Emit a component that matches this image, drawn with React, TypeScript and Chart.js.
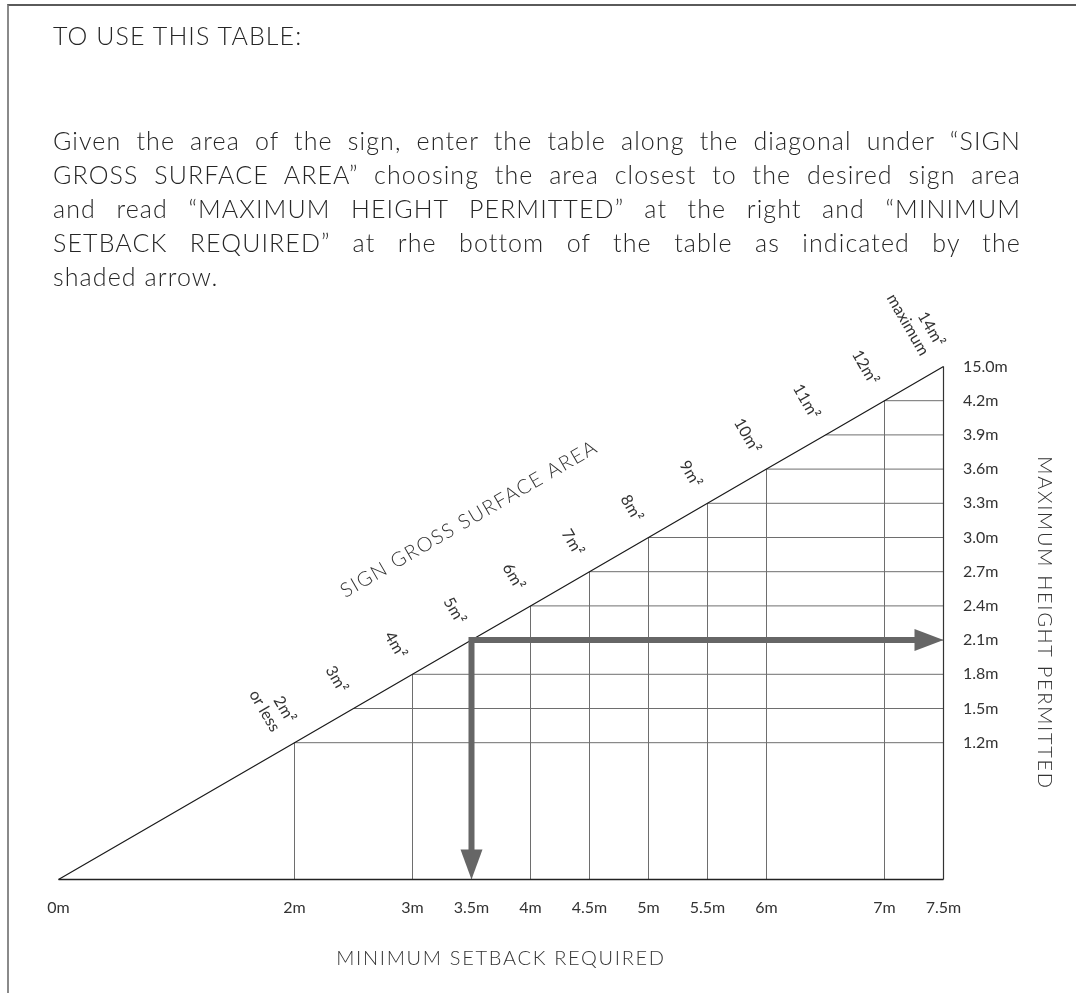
import React, { useEffect, useRef } from "react";
import { Chart, registerables } from "chart.js";

Chart.register(...registerables);

// ---------- data ----------
const setbackTicks = [0, 2, 3, 3.5, 4, 4.5, 5, 5.5, 6, 7, 7.5];
const setbackTickLabels = ["0m", "2m", "3m", "3.5m", "4m", "4.5m", "5m", "5.5m", "6m", "7m", "7.5m"];

const heightTicks = [1.2, 1.5, 1.8, 2.1, 2.4, 2.7, 3.0, 3.3, 3.6, 3.9, 4.2, 4.5];
const heightTickLabels = ["1.2m", "1.5m", "1.8m", "2.1m", "2.4m", "2.7m", "3.0m", "3.3m", "3.6m", "3.9m", "4.2m", "15.0m"];

const areaSetbacks = [2, 2.5, 3, 3.5, 4, 4.5, 5, 5.5, 6, 6.5, 7, 7.5];
const areaHeights = [1.2, 1.5, 1.8, 2.1, 2.4, 2.7, 3.0, 3.3, 3.6, 3.9, 4.2, 4.5];
const areaLabels = [
  ["2m²", "or less"],
  ["3m²"],
  ["4m²"],
  ["5m²"],
  ["6m²"],
  ["7m²"],
  ["8m²"],
  ["9m²"],
  ["10m²"],
  ["11m²"],
  ["12m²"],
  ["14m²", "maximum"],
];

const gridSetbacks = [2, 3, 3.5, 4, 4.5, 5, 5.5, 6, 7];
const gridHeights = [1.2, 1.5, 1.8, 2.1, 2.4, 2.7, 3.0, 3.3, 3.6, 3.9, 4.2];

const setbackMin = 0;
const setbackMax = 7.5;
const heightMin = 0;
const heightMax = 4.5;

const exampleSetback = 3.5;
const exampleHeight = 2.1;

const introHeading = "TO USE THIS TABLE:";
const introLines = [
  "Given the area of the sign, enter the table along the diagonal under “SIGN",
  "GROSS SURFACE AREA” choosing the area closest to the desired sign area",
  "and read “MAXIMUM HEIGHT PERMITTED” at the right and “MINIMUM",
  "SETBACK REQUIRED” at rhe bottom of the table as indicated by the",
  "shaded arrow.",
];
const xTitle = "MINIMUM SETBACK REQUIRED";
const yTitle = "MAXIMUM HEIGHT PERMITTED";
const diagonalTitle = "SIGN GROSS SURFACE AREA";
const diagonalTitleAt = 3.93;

// ---------- helpers ----------
const heightAt = (s: number) => areaHeights[areaSetbacks.indexOf(s)];
const setbackAt = (h: number) => areaSetbacks[areaHeights.indexOf(h)];

const TEXT = "#333333";
const FONT = "Lato, 'Open Sans', sans-serif";

function lineDs(points: { x: number; y: number }[], color: string, width = 1) {
  return {
    data: points,
    showLine: true,
    borderColor: color,
    borderWidth: width,
    pointRadius: 0,
    pointHoverRadius: 0,
    fill: false,
    clip: false as any,
    tension: 0,
  };
}

const annotationPlugin = {
  id: "signTableAnnotations",
  afterDatasetsDraw(chart: any) {
    const { ctx, scales } = chart;
    const px = (v: number) => scales.x.getPixelForValue(v);
    const py = (v: number) => scales.y.getPixelForValue(v);

    // ---- shaded arrow ----
    const ax = px(exampleSetback);
    const ay = py(exampleHeight);
    const bottom = py(heightMin);
    const right = px(setbackMax);
    const vHeadLen = 30, vHeadW = 22;
    const hHeadLen = 29, hHeadW = 22;
    ctx.save();
    ctx.strokeStyle = "#666666";
    ctx.fillStyle = "#666666";
    ctx.lineWidth = 6;
    ctx.lineJoin = "miter";
    ctx.lineCap = "butt";
    ctx.beginPath();
    ctx.moveTo(ax, bottom - vHeadLen + 1);
    ctx.lineTo(ax, ay);
    ctx.lineTo(right - hHeadLen + 1, ay);
    ctx.stroke();
    ctx.beginPath();
    ctx.moveTo(ax - vHeadW / 2, bottom - vHeadLen);
    ctx.lineTo(ax + vHeadW / 2, bottom - vHeadLen);
    ctx.lineTo(ax, bottom);
    ctx.closePath();
    ctx.fill();
    ctx.beginPath();
    ctx.moveTo(right - hHeadLen, ay - hHeadW / 2);
    ctx.lineTo(right - hHeadLen, ay + hHeadW / 2);
    ctx.lineTo(right, ay);
    ctx.closePath();
    ctx.fill();
    ctx.restore();
  },
  afterDraw(chart: any) {
    const { ctx, chartArea, scales } = chart;
    const px = (v: number) => scales.x.getPixelForValue(v);
    const py = (v: number) => scales.y.getPixelForValue(v);

    ctx.save();
    ctx.fillStyle = TEXT;

    // x tick labels
    ctx.font = `400 16px ${FONT}`;
    (ctx as any).letterSpacing = "0px";
    ctx.textAlign = "center";
    ctx.textBaseline = "middle";
    setbackTicks.forEach((v, i) => {
      ctx.fillText(setbackTickLabels[i], px(v), chartArea.bottom + 28);
    });

    // y tick labels (right side)
    ctx.textAlign = "left";
    heightTicks.forEach((v, i) => {
      ctx.fillText(heightTickLabels[i], chartArea.right + 19.5, py(v));
    });

    // axis titles
    ctx.font = `300 20px ${FONT}`;
    (ctx as any).letterSpacing = "1.7px";
    ctx.textAlign = "center";
    ctx.textBaseline = "middle";
    ctx.fillText(xTitle, (chartArea.left + chartArea.right) / 2, chartArea.bottom + 79);

    ctx.save();
    ctx.translate(chartArea.right + 101, (chartArea.top + chartArea.bottom) / 2);
    ctx.rotate(Math.PI / 2);
    ctx.fillText(yTitle, 0, 0);
    ctx.restore();

    // diagonal geometry
    const ang = Math.atan2(py(heightMax) - py(heightMin), px(setbackMax) - px(setbackMin));
    const nx = Math.sin(ang); // normal pointing up-left
    const ny = -Math.cos(ang);

    // diagonal title
    {
      const s = diagonalTitleAt;
      const bx = px(s);
      const by = py((s / setbackMax) * heightMax);
      const off = 106;
      (ctx as any).letterSpacing = "1.4px";
      ctx.save();
      ctx.translate(bx + nx * off, by + ny * off);
      ctx.rotate(ang);
      ctx.fillText(diagonalTitle, 0, 0);
      ctx.restore();
    }

    // area labels along the diagonal
    ctx.font = `400 16px ${FONT}`;
    (ctx as any).letterSpacing = "0px";
    ctx.textAlign = "right";
    ctx.textBaseline = "middle";
    const lh = 18;
    areaSetbacks.forEach((s, i) => {
      const lines = areaLabels[i];
      ctx.save();
      ctx.translate(px(s), py(areaHeights[i]));
      ctx.rotate(ang + Math.PI / 2);
      const n = lines.length;
      lines.forEach((t, j) => {
        const yy = (j - (n - 1) / 2) * lh + (n > 1 ? 1 : 0);
        ctx.fillText(t, -20, yy);
      });
      ctx.restore();
    });

    ctx.restore();
  },
};

export default function App() {
  const canvasRef = useRef<HTMLCanvasElement | null>(null);

  useEffect(() => {
    const canvas = canvasRef.current;
    if (!canvas) return;

    const datasets: any[] = [];
    datasets.push(
      lineDs(
        [{ x: setbackMin, y: heightMin }, ...areaSetbacks.map((s, i) => ({ x: s, y: areaHeights[i] }))],
        "#1a1a1a",
        1.2
      )
    );
    datasets.push(lineDs([{ x: setbackMin, y: heightMin }, { x: setbackMax, y: heightMin }], "#222222", 1.5));
    datasets.push(lineDs([{ x: setbackMax, y: heightMin }, { x: setbackMax, y: heightMax }], "#333333", 1.2));
    gridSetbacks.forEach((s) => {
      datasets.push(lineDs([{ x: s, y: heightMin }, { x: s, y: heightAt(s) }], "#6e6e6e", 1));
    });
    gridHeights.forEach((h) => {
      datasets.push(lineDs([{ x: setbackAt(h), y: h }, { x: setbackMax, y: h }], "#6e6e6e", 1));
    });

    const chart = new Chart(canvas, {
      type: "scatter",
      data: { datasets },
      options: {
        responsive: false,
        animation: false,
        devicePixelRatio: 1,
        events: [],
        layout: { padding: { left: 58.5, top: 366.5, right: 132.5, bottom: 113.5 } },
        plugins: {
          legend: { display: false },
          tooltip: { enabled: false },
          title: { display: false },
        },
        scales: {
          x: { type: "linear", min: setbackMin, max: setbackMax, display: false },
          y: { type: "linear", min: heightMin, max: heightMax, display: false },
        },
        elements: { point: { radius: 0 }, line: { tension: 0 } },
      } as any,
      plugins: [annotationPlugin],
    });

    return () => chart.destroy();
  }, []);

  const lineStyle: React.CSSProperties = {
    position: "absolute",
    left: 53,
    width: 968,
    height: 34,
    lineHeight: "34px",
    fontSize: 25,
    fontWeight: 300,
    letterSpacing: "1.1px",
    whiteSpace: "nowrap",
    color: "#262626",
    fontFamily: FONT,
  };

  return (
    <div
      style={{
        position: "absolute",
        left: 0,
        top: 0,
        width: 1076,
        height: 993,
        overflow: "hidden",
        background: "#ffffff",
      }}
    >
      <div
        style={{
          position: "absolute",
          left: 7,
          top: 4,
          right: -4,
          bottom: -4,
          borderTop: "2px solid #5a5a5a",
          borderLeft: "2px solid #8a8a8a",
        }}
      />
      <canvas ref={canvasRef} width={1076} height={993} style={{ position: "absolute", left: 0, top: 0 }} />
      <div style={{ ...lineStyle, top: 18 }}>{introHeading}</div>
      {introLines.map((t, i) => {
        const last = i === introLines.length - 1;
        return (
          <div
            key={i}
            style={{
              ...lineStyle,
              top: 122.5 + i * 34,
              textAlign: last ? "left" : "justify",
              textAlignLast: last ? "left" : "justify",
            } as React.CSSProperties}
          >
            {t}
          </div>
        );
      })}
    </div>
  );
}
